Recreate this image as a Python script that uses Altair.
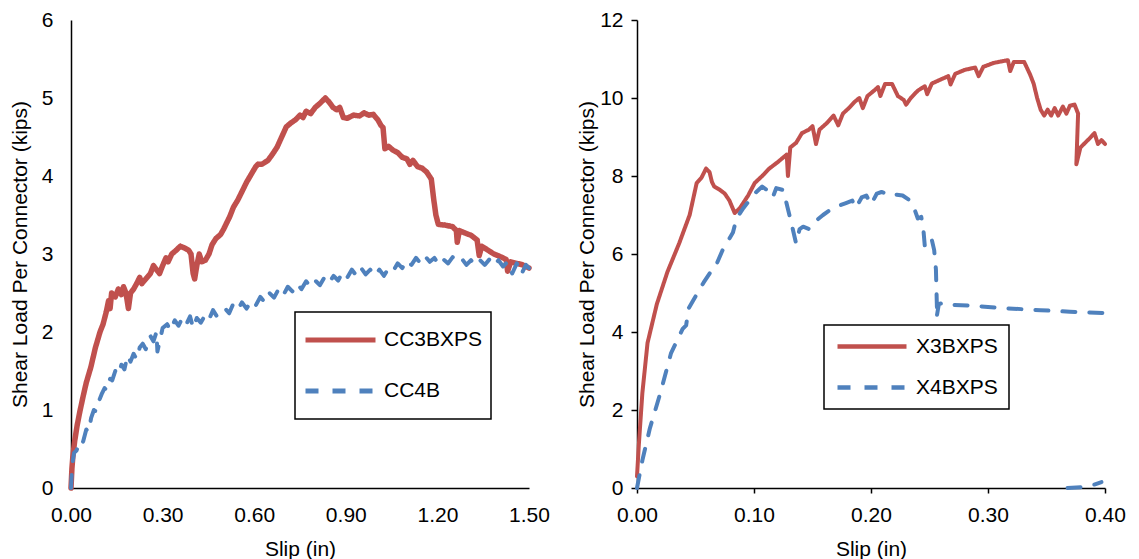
import altair as alt
import pandas as pd

# ---- Left panel data (CC3BXPS, CC4B) ----
cc3_x = [0.000, 0.003, 0.006, 0.012, 0.020, 0.029, 0.040, 0.050, 0.065, 0.080, 0.095, 0.105, 0.115, 0.123, 0.128,
         0.133, 0.145, 0.155, 0.165, 0.172, 0.180, 0.188, 0.195, 0.205, 0.215, 0.225, 0.232, 0.245, 0.260, 0.270,
         0.280, 0.290, 0.300, 0.311, 0.318, 0.330, 0.345, 0.358, 0.370, 0.385, 0.393, 0.400, 0.405, 0.412, 0.420,
         0.428, 0.440, 0.452, 0.462, 0.475, 0.490, 0.500, 0.510, 0.520, 0.532, 0.546, 0.560, 0.575, 0.590, 0.605,
         0.612, 0.625, 0.645, 0.660, 0.675, 0.690, 0.705, 0.720, 0.735, 0.750, 0.760, 0.770, 0.785, 0.800, 0.815,
         0.833, 0.845, 0.858, 0.870, 0.880, 0.892, 0.905, 0.925, 0.945, 0.960, 0.975, 0.990, 1.005, 1.015, 1.022,
         1.028, 1.040, 1.055, 1.070, 1.085, 1.100, 1.110, 1.120, 1.135, 1.150, 1.165, 1.180, 1.188, 1.195, 1.203,
         1.225, 1.250, 1.262, 1.265, 1.272, 1.290, 1.310, 1.330, 1.337, 1.345, 1.365, 1.385, 1.410, 1.425, 1.430,
         1.440, 1.460, 1.480, 1.500]
cc3_y = [0.00, 0.25, 0.40, 0.60, 0.80, 0.98, 1.18, 1.35, 1.55, 1.80, 2.00, 2.10, 2.25, 2.40, 2.30,
         2.50, 2.45, 2.55, 2.48, 2.58, 2.50, 2.30, 2.50, 2.55, 2.62, 2.70, 2.62, 2.68, 2.75, 2.85,
         2.80, 2.75, 2.85, 2.95, 2.90, 3.00, 3.05, 3.10, 3.08, 3.05, 3.00, 2.75, 2.68, 2.85, 3.00,
         2.90, 2.92, 3.00, 3.12, 3.20, 3.25, 3.32, 3.40, 3.48, 3.60, 3.69, 3.80, 3.92, 4.02, 4.12,
         4.15, 4.15, 4.20, 4.28, 4.37, 4.50, 4.63, 4.68, 4.72, 4.78, 4.75, 4.83, 4.80, 4.88, 4.93,
         5.00, 4.95, 4.88, 4.85, 4.88, 4.75, 4.74, 4.78, 4.77, 4.81, 4.78, 4.79, 4.72, 4.65, 4.62,
         4.35, 4.38, 4.33, 4.30, 4.24, 4.22, 4.15, 4.20, 4.12, 4.10, 4.05, 3.96, 3.70, 3.50, 3.38,
         3.37, 3.35, 3.30, 3.15, 3.30, 3.27, 3.24, 3.18, 2.98, 3.10, 3.05, 3.00, 2.96, 2.93, 2.78,
         2.90, 2.88, 2.86, 2.82]

cc4_x = [0.000, 0.004, 0.010, 0.018, 0.025, 0.032, 0.040, 0.050, 0.058, 0.066, 0.075, 0.082, 0.090, 0.100, 0.110,
         0.118, 0.128, 0.135, 0.145, 0.155, 0.165, 0.175, 0.185, 0.195, 0.205, 0.215, 0.225, 0.235, 0.245, 0.260,
         0.270, 0.280, 0.283, 0.300, 0.315, 0.325, 0.340, 0.352, 0.365, 0.378, 0.390, 0.400, 0.412, 0.425, 0.440,
         0.452, 0.465, 0.478, 0.490, 0.505, 0.518, 0.530, 0.545, 0.560, 0.575, 0.590, 0.605, 0.620, 0.635, 0.650,
         0.665, 0.680, 0.695, 0.710, 0.725, 0.740, 0.755, 0.770, 0.785, 0.800, 0.815, 0.830, 0.845, 0.860, 0.875,
         0.890, 0.905, 0.920, 0.935, 0.950, 0.965, 0.980, 0.995, 1.010, 1.025, 1.040, 1.055, 1.070, 1.085, 1.100,
         1.115, 1.130, 1.145, 1.160, 1.175, 1.190, 1.205, 1.220, 1.235, 1.250, 1.265, 1.280, 1.295, 1.310, 1.325,
         1.340, 1.355, 1.370, 1.385, 1.400, 1.415, 1.430, 1.445, 1.460, 1.475, 1.490, 1.500]
cc4_y = [0.00, 0.30, 0.45, 0.48, 0.55, 0.52, 0.60, 0.75, 0.72, 0.90, 1.00, 0.98, 1.10, 1.20, 1.28,
         1.25, 1.40, 1.38, 1.50, 1.45, 1.58, 1.52, 1.70, 1.62, 1.72, 1.65, 1.80, 1.85, 1.78, 1.95,
         1.88, 2.00, 1.75, 2.05, 2.10, 2.02, 2.15, 2.08, 2.18, 2.10, 2.20, 2.05, 2.18, 2.12, 2.22,
         2.16, 2.28, 2.20, 2.25, 2.30, 2.24, 2.35, 2.28, 2.38, 2.30, 2.40, 2.34, 2.45, 2.38, 2.50,
         2.44, 2.55, 2.47, 2.58, 2.52, 2.62, 2.55, 2.65, 2.58, 2.66, 2.60, 2.70, 2.63, 2.72, 2.66,
         2.77, 2.70, 2.80, 2.72, 2.82, 2.74, 2.80, 2.72, 2.80, 2.72, 2.82, 2.78, 2.88, 2.82, 2.92,
         2.86, 2.95, 2.88, 2.97, 2.90, 2.95, 2.86, 2.93, 2.88, 2.96, 2.90, 2.94, 2.86, 2.92, 2.85,
         2.92, 2.86, 2.93, 2.85, 2.92, 2.84, 2.90, 2.75, 2.88, 2.74, 2.86, 2.82]

# ---- Right panel data (X3BXPS, X4BXPS) ----
x3_x = [0.000, 0.0015, 0.0046, 0.009, 0.017, 0.026, 0.036, 0.045, 0.051, 0.055, 0.059, 0.062, 0.064, 0.066, 0.071,
        0.075, 0.079, 0.0835, 0.088, 0.095, 0.1006, 0.107, 0.113, 0.120, 0.128, 0.129, 0.131, 0.136, 0.141, 0.147,
        0.150, 0.153, 0.156, 0.162, 0.168, 0.172, 0.176, 0.181, 0.186, 0.190, 0.193, 0.197, 0.203, 0.206, 0.208,
        0.212, 0.218, 0.223, 0.228, 0.230, 0.234, 0.240, 0.246, 0.248, 0.252, 0.260, 0.266, 0.268, 0.272, 0.280,
        0.289, 0.292, 0.296, 0.305, 0.317, 0.319, 0.322, 0.331, 0.336, 0.339, 0.342, 0.345, 0.348, 0.351, 0.354,
        0.357, 0.360, 0.364, 0.367, 0.370, 0.374, 0.377, 0.3755, 0.379, 0.383, 0.388, 0.391, 0.394, 0.397, 0.400]
x3_y = [0.30, 1.08, 2.44, 3.72, 4.72, 5.54, 6.27, 7.00, 7.82, 7.95, 8.19, 8.10, 7.85, 7.73, 7.64,
        7.55, 7.37, 7.05, 7.18, 7.50, 7.82, 8.00, 8.19, 8.35, 8.55, 8.00, 8.73, 8.85, 9.10, 9.19,
        9.28, 8.82, 9.19, 9.35, 9.55, 9.30, 9.60, 9.74, 9.90, 10.00, 9.74, 10.05, 10.20, 10.28, 10.05,
        10.36, 10.36, 10.05, 9.95, 9.83, 10.00, 10.19, 10.30, 10.10, 10.37, 10.48, 10.56, 10.35, 10.62, 10.72,
        10.78, 10.56, 10.80, 10.90, 10.97, 10.69, 10.92, 10.92, 10.60, 10.37, 10.00, 9.70, 9.55, 9.70, 9.55,
        9.74, 9.55, 9.78, 9.60, 9.80, 9.83, 9.60, 8.30, 8.73, 8.85, 9.00, 9.10, 8.82, 8.92, 8.82]

x4_x = [0.000, 0.0046, 0.011, 0.020, 0.029, 0.039, 0.042, 0.044, 0.048, 0.057, 0.063, 0.066, 0.073, 0.082, 0.085,
        0.091, 0.1006, 0.107, 0.113, 0.116, 0.119, 0.125, 0.131, 0.136, 0.139, 0.142, 0.147, 0.153, 0.159, 0.166,
        0.172, 0.178, 0.184, 0.187, 0.192, 0.196, 0.200, 0.205, 0.209, 0.213, 0.215, 0.222, 0.227, 0.232, 0.236,
        0.240, 0.243, 0.245, 0.246, 0.249, 0.252, 0.254, 0.2555, 0.2565, 0.256, 0.258, 0.262, 0.266, 0.283, 0.314,
        0.345, 0.370, 0.398]
x4_y = [0.00, 0.71, 1.53, 2.44, 3.45, 4.08, 4.17, 4.60, 4.81, 5.27, 5.54, 5.60, 6.09, 6.55, 6.91,
        7.18, 7.55, 7.73, 7.60, 7.45, 7.69, 7.64, 6.91, 6.27, 6.64, 6.70, 6.64, 6.85, 7.00, 7.15,
        7.23, 7.30, 7.37, 7.18, 7.45, 7.50, 7.27, 7.55, 7.59, 7.55, 7.50, 7.52, 7.50, 7.40, 7.25,
        6.91, 6.95, 6.55, 6.20, 6.40, 6.36, 6.10, 5.60, 4.45, 4.36, 4.72, 4.74, 4.70, 4.68, 4.61,
        4.56, 4.52, 4.49]
x4b_x = [0.368, 0.380, 0.390, 0.397]
x4b_y = [0.00, 0.02, 0.08, 0.15]


def frame(xs, ys, name, seg):
    return pd.DataFrame({"slip": xs, "load": ys, "series": name, "seg": seg, "i": list(range(len(xs)))})


left_df = pd.concat([frame(cc3_x, cc3_y, "CC3BXPS", "a"), frame(cc4_x, cc4_y, "CC4B", "b")])
right_df = pd.concat([frame(x3_x, x3_y, "X3BXPS", "a"), frame(x4_x, x4_y, "X4BXPS", "b"),
                      frame(x4b_x, x4b_y, "X4BXPS", "c")])

RED = "#C0504D"
BLUE = "#4F81BD"
FONT = "Liberation Sans"


def panel(df, names, xvals, yvals, xmax, ymax, width, ticks, widths, leg):
    color = alt.Color("series:N", scale=alt.Scale(domain=names, range=[RED, BLUE]),
                      legend=alt.Legend(
                          title=None, orient="none", legendX=leg["x"], legendY=leg["y"],
                          symbolType="stroke", symbolSize=leg["sym"] ** 2, padding=leg["pad"],
                          clipHeight=leg["ch"], rowPadding=leg["rp"], labelOffset=leg["lo"],
                          strokeColor="black", fillColor="white", cornerRadius=0,
                          symbolStrokeWidth=leg["sw"],
                          labelFontSize=21, labelFont=FONT, labelColor="black"))
    dash = alt.StrokeDash("series:N", scale=alt.Scale(domain=names, range=[[1, 0], [13, 14]]))
    x = alt.X("slip:Q", scale=alt.Scale(domain=[0, xmax], nice=False, zero=False),
              axis=alt.Axis(values=xvals, format=".2f", title="Slip (in)", ticks=ticks, tickSize=5,
                            labelFlush=False, labelOverlap=False,
                            labelPadding=11 if ticks else 16, titlePadding=13))
    y = alt.Y("load:Q", scale=alt.Scale(domain=[0, ymax], nice=False),
              axis=alt.Axis(values=yvals, format="d", title="Shear Load Per Connector (kips)",
                            labelFlush=False, labelOverlap=False,
                            ticks=ticks, tickSize=6, labelPadding=8 if ticks else 18,
                            titlePadding=2 if ticks else 11))
    layers = []
    for nm, w in zip(names, widths):
        layers.append(
            alt.Chart(df).transform_filter(alt.datum.series == nm)
            .mark_line(strokeWidth=w, strokeCap="round", strokeJoin="round")
            .encode(x=x, y=y, color=color, strokeDash=dash, detail="seg:N", order="i:Q")
        )
    return alt.layer(*layers).properties(width=width, height=468)


left = panel(left_df, ["CC3BXPS", "CC4B"], [0, 0.3, 0.6, 0.9, 1.2, 1.5], [0, 1, 2, 3, 4, 5, 6],
             1.5, 6, 458, False, [5.5, 4],
             {"x": 224, "y": 292, "sym": 70, "pad": 8, "ch": 40, "rp": 11, "lo": 6, "sw": 5})
right = panel(right_df, ["X3BXPS", "X4BXPS"], [0, 0.1, 0.2, 0.3, 0.4], [0, 2, 4, 6, 8, 10, 12],
              0.4, 12, 468, True, [4, 4],
              {"x": 187, "y": 305, "sym": 69, "pad": 11, "ch": 21, "rp": 19, "lo": 7, "sw": 4.5})

chart = (
    alt.hconcat(left, right, spacing=26)
    .resolve_scale(color="independent", strokeDash="independent")
    .configure(padding={"left": 9, "top": 9, "right": 0, "bottom": 0}, font=FONT, background="white")
    .configure_view(stroke=None)
    .configure_axis(grid=False, domainColor="black", domainWidth=1.5, tickColor="black", tickWidth=1.5,
                    labelFontSize=21, titleFontSize=21, labelColor="black", titleColor="black",
                    titleFontWeight="normal", labelFont=FONT, titleFont=FONT)
    .configure_legend(strokeWidth=1.5)
)

chart.save("out.html", embed_options={"renderer": "svg", "actions": False})
